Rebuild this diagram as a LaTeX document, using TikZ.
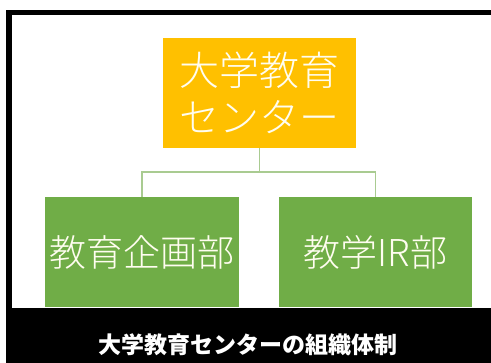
\documentclass[tikz,border=0pt]{standalone}
\usepackage{fontspec}
\newfontfamily\cjk{Noto Sans CJK JP}
\newfontfamily\cjklight{Noto Sans CJK JP Light}
\definecolor{orgfill}{HTML}{FFC000}
\definecolor{grnfill}{HTML}{70AD47}
\definecolor{linkcol}{HTML}{A9CB91}
\definecolor{txtcol}{HTML}{FFFDF0}
\begin{document}
\begin{tikzpicture}[x=1pt,y=-1pt,
  unitbox/.style={draw=none,inner sep=0pt,text=txtcol,align=center},
  link/.style={draw=linkcol,line width=1.5pt}]
\useasboundingbox (0,0) rectangle (491,363);
\fill[white] (0,0) rectangle (491,363);
% frame
\fill[black] (6,10) rectangle (491,15.5);
\fill[black] (6,10) rectangle (12,363);
\fill[black] (7,308) rectangle (491,363);
% boxes
\node[unitbox,fill=orgfill,minimum width=193pt,minimum height=110pt,
  font=\cjklight\fontsize{40}{47}\selectfont] (top) at (259.5,93) {大学教育\\センター};
\node[unitbox,fill=grnfill,minimum width=194pt,minimum height=110pt,
  font=\cjklight\fontsize{37}{40}\selectfont] (left) at (142,252) {教育企画部};
\node[unitbox,fill=grnfill,minimum width=193pt,minimum height=110pt,
  font=\cjklight\fontsize{37}{40}\selectfont] (right) at (375.5,252) {教学IR部};
% connectors
\coordinate (split) at (259.5,172);
\draw[link] (top.south) -- (split);
\draw[link] (split) -| (left.north);
\draw[link] (split) -| (right.north);
% caption
\node[text=white,inner sep=0pt,font=\cjk\bfseries\fontsize{23}{26}\selectfont] (caption) at (248,345) {大学教育センターの組織体制};
\end{tikzpicture}
\end{document}
